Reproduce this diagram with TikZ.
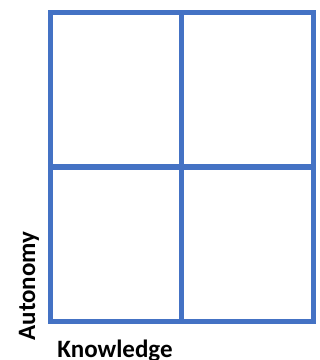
\documentclass[tikz,border=0pt]{standalone}
\usepackage{fontspec}
\setsansfont{Carlito}
\definecolor{gridblue}{HTML}{4472C4}

\begin{document}
\begin{tikzpicture}[x=1pt,y=-1pt]
\tikzset{
  gridline/.style={draw=gridblue,line width=5.5pt},
  axislabel/.style={font=\sffamily\bfseries\fontsize{25}{30}\selectfont,inner sep=0pt,anchor=base}
}
\useasboundingbox (0,0) rectangle (320,360);
\coordinate (c_tl) at (50.7,12.3);
\coordinate (c_br) at (313.5,321.7);
\coordinate (c_tm) at (181.7,12.3);
\coordinate (c_bm) at (181.7,321.7);
\coordinate (c_ml) at (50.7,167);
\coordinate (c_mr) at (313.5,167);
\draw[gridline] (c_tl) rectangle (c_br);
\draw[gridline] (c_tm) -- (c_bm);
\draw[gridline] (c_ml) -- (c_mr);
\node[axislabel,rotate=90] (l_auto) at (35,286) {Autonomy};
\node[axislabel] (l_know) at (115,357) {Knowledge};
\end{tikzpicture}
\end{document}
